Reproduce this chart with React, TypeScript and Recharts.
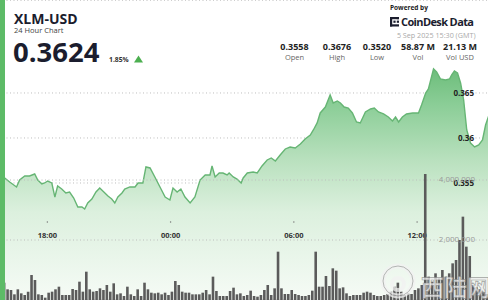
import React from "react";
import { AreaChart, Area, BarChart, Bar, XAxis, YAxis, CartesianGrid } from "recharts";

// minutes since 15:30 (GMT) on the previous day
const priceMinutes = [0,25,40,60,69,84,98,113,122,134,142,151,163,172,180,192,204,215,227,239,251,259,268,280,292,303,315,327,338,347,356,368,376,391,406,415,429,438,450,464,479,494,508,517,529,540,552,567,581,596,611,625,631,640,652,663,675,681,693,704,716,722,734,751,763,777,792,804,816,830,845,859,874,889,903,918,927,938,947,962,976,985,997,1006,1017,1029,1041,1053,1064,1079,1094,1105,1117,1132,1146,1158,1167,1176,1187,1199,1217,1234,1243,1255,1263,1272,1278,1287,1298,1313,1325,1331,1339,1348,1357,1366,1375,1386,1398,1410,1421,1430,1440];
const priceValues = [0.35578,0.35556,0.35511,0.35456,0.35533,0.35578,0.35578,0.356,0.35533,0.35489,0.355,0.35522,0.355,0.35344,0.35467,0.35433,0.35389,0.354,0.35333,0.35233,0.35233,0.35211,0.35278,0.35322,0.354,0.35444,0.354,0.35356,0.35322,0.35278,0.35344,0.35389,0.35433,0.35456,0.35456,0.355,0.355,0.35678,0.35667,0.35567,0.35456,0.35344,0.35311,0.35444,0.354,0.35433,0.35344,0.35278,0.35344,0.35533,0.35589,0.35589,0.35689,0.35567,0.35611,0.35611,0.35589,0.35611,0.35567,0.35544,0.355,0.35556,0.35611,0.35622,0.35611,0.35689,0.35756,0.35778,0.35744,0.35811,0.35878,0.359,0.35889,0.35933,0.35989,0.36033,0.36089,0.36167,0.36278,0.36344,0.36478,0.36389,0.36411,0.36389,0.36344,0.36333,0.36278,0.36178,0.36167,0.36289,0.36322,0.36333,0.36289,0.36267,0.36233,0.36189,0.36233,0.36178,0.36233,0.36267,0.36278,0.36278,0.36367,0.365,0.36544,0.36678,0.36767,0.36733,0.36656,0.36644,0.36656,0.367,0.36744,0.36722,0.36611,0.36422,0.36089,0.35944,0.359,0.35922,0.35978,0.36144,0.36256];
// 10-minute volume, thousands
const volumeK = [420,300,577,356,333,189,356,222,167,278,833,667,189,167,78,244,278,356,444,167,167,167,367,333,611,278,944,356,278,300,389,333,500,278,556,189,222,133,444,189,133,356,133,577,356,244,222,244,189,244,167,278,633,500,278,244,244,189,189,189,244,333,189,778,300,133,133,133,300,411,189,222,133,167,311,133,111,167,333,500,167,389,1611,389,200,200,333,200,167,133,133,167,311,1611,444,444,800,467,1056,978,389,422,222,133,167,167,167,244,278,244,167,133,133,167,200,278,444,578,278,167,222,200,333,389,500,4200,778,611,889,722,1000,778,889,1222,1333,2000,2778,1778,1467,500,422,356,278,200];

const timeTicks = [150, 510, 870, 1230];
const priceTicks = [0.355, 0.36, 0.365];
const volumeTicks = [2000, 4000];
const statValues = ["0.3558", "0.3676", "0.3520", "58.87 M", "21.13 M"];
const statLabels = ["Open", "High", "Low", "Vol", "Vol USD"];

const priceData = priceMinutes.map((m, i) => ({ m, p: priceValues[i] }));
const volumeData = volumeK.map((v, i) => ({ i, v }));

const fmtTime = (m: number) => {
  const t = (15 * 60 + 30 + m) % 1440;
  const hh = Math.floor(t / 60);
  const mm = t % 60;
  return `${String(hh).padStart(2, "0")}:${String(mm).padStart(2, "0")}`;
};

const FONT = "'Open Sans', 'Noto Sans', sans-serif";

const TimeTick = (props: any) => {
  const { x, y, payload } = props;
  return (
    <g>
      <circle cx={x} cy={y - 78} r={0.7} fill="#777" />
      <text x={x} y={y - 62} textAnchor="middle" fontSize={7.5} fontWeight={700} fill="#333" fontFamily={FONT}>
        {fmtTime(payload.value)}
      </text>
    </g>
  );
};

const PriceTick = (props: any) => {
  const { x, y, payload } = props;
  return (
    <text x={x - 15} y={y + 3} textAnchor="end" fontSize={8} fontWeight={700} fill="#222" fontFamily={FONT}>
      {String(payload.value)}
    </text>
  );
};

const VolTick = (props: any) => {
  const { x, y, payload } = props;
  return (
    <text x={x - 14} y={y + 2} textAnchor="end" fontSize={8} fill="#9a9a9a" fontFamily={FONT}>
      {(payload.value * 1000).toLocaleString("en-US")}
    </text>
  );
};

const statCenters = [294.5, 337, 377, 418, 460];

export default function App() {
  return (
    <div style={{ position: "fixed", left: 0, top: 0, width: 488, height: 300, overflow: "hidden", background: "#fff", fontFamily: FONT }}>
      <div style={{ position: "absolute", left: -4, top: 0 }}>
        <AreaChart width={493} height={300} data={priceData} margin={{ top: 0, right: 0, bottom: 0, left: 0 }}>
          <defs>
            <linearGradient id="pg" x1="0" y1="0" x2="0" y2="1">
              <stop offset="0%" stopColor="#6dbd7b" />
              <stop offset="15%" stopColor="#8acd96" />
              <stop offset="40%" stopColor="#bae1bf" />
              <stop offset="62%" stopColor="#dcf0de" />
              <stop offset="100%" stopColor="#f6fbf6" />
            </linearGradient>
          </defs>
          <CartesianGrid vertical={false} stroke="#bdbdbd" strokeDasharray="1 2.5" />
          <XAxis type="number" dataKey="m" domain={[0, 1440]} ticks={timeTicks} mirror height={20} axisLine={false} tickLine={false} tickSize={0} tickMargin={0} interval={0} tick={TimeTick} allowDataOverflow />
          <YAxis type="number" domain={[0.342, 0.37533]} ticks={priceTicks} orientation="right" mirror width={40} axisLine={false} tickLine={false} tickSize={0} tickMargin={0} interval={0} tick={PriceTick} allowDataOverflow />
          <Area type="linear" dataKey="p" stroke="#66b574" strokeWidth={1.4} fill="url(#pg)" fillOpacity={1} isAnimationActive={false} dot={false} activeDot={false} />
        </AreaChart>
      </div>
      <div style={{ position: "absolute", left: -4, top: 0 }}>
        <BarChart width={493} height={300} data={volumeData} margin={{ top: 0, right: 0, bottom: 0, left: 0 }} barCategoryGap={0}>
          <CartesianGrid vertical={false} stroke="#bdbdbd" strokeDasharray="1 2.5" />
          <XAxis dataKey="i" hide />
          <YAxis type="number" domain={[0, 10000]} ticks={volumeTicks} orientation="right" mirror width={40} axisLine={false} tickLine={false} tickSize={0} tickMargin={0} interval={0} tick={VolTick} allowDataOverflow />
          <Bar dataKey="v" fill="#5b5b5b" barSize={2.6} isAnimationActive={false} />
        </BarChart>
      </div>
      <svg width={488} height={300} style={{ position: "absolute", left: 0, top: 0, pointerEvents: "none" }} fontFamily={FONT}>
        <rect x={0} y={0} width={5} height={300} fill="#5dbb67" />
        <text x={14} y={24} fontSize={14} fontWeight={700} fill="#1b1d2e">XLM-USD</text>
        <text x={14} y={33} fontSize={7.5} fill="#444">24 Hour Chart</text>
        <text x={13} y={62} fontSize={27.5} fontWeight={700} fill="#1b1d2e">0.3624</text>
        <text x={109} y={61.5} fontSize={6.8} fontWeight={700} fill="#333">1.85%</text>
        <polygon points="134,62.5 143,62.5 138.5,55.5" fill="#4caf50" />

        <text x={390} y={9.5} fontSize={6.5} fontWeight={700} fill="#222">Powered by</text>
        <g fill="#1b1d2e">
          <rect x={390} y={17} width={2.2} height={9.5} />
          <rect x={390} y={17} width={9} height={2.2} />
          <rect x={390} y={24.3} width={9} height={2.2} />
          <rect x={396.8} y={17} width={2.2} height={2.2} />
          <rect x={396.8} y={20.6} width={2.2} height={2.2} />
          <rect x={393.4} y={20.6} width={2.2} height={2.2} />
        </g>
        <text x={401} y={26.3} fontSize={11} fontWeight={700} fill="#1b1d2e" textLength={73}>CoinDesk Data</text>
        <text x={475.5} y={37.5} fontSize={7.2} fill="#aaa" textAnchor="end">5 Sep 2025 15:30 (GMT)</text>
        {statValues.map((v, i) => (
          <text key={v} x={statCenters[i]} y={50} fontSize={9} fontWeight={700} fill="#222" textAnchor="middle">{v}</text>
        ))}
        {statLabels.map((v, i) => (
          <text key={v} x={statCenters[i]} y={60} fontSize={7.5} fill="#666" textAnchor="middle">{v}</text>
        ))}

        <g opacity={0.75}>
          <circle cx={398} cy={281} r={15} fill="none" stroke="#f2f2f2" strokeWidth={5} />
          <circle cx={398} cy={281} r={15} fill="none" stroke="#8a8a8a" strokeWidth={0.8} />
          <circle cx={398} cy={284} r={6} fill="none" stroke="#f2f2f2" strokeWidth={4} />
          <text x={421} y={296} fontSize={23} fontWeight={700} fill="#eeeeee" stroke="#8a8a8a" strokeWidth={0.7} fontFamily="'Noto Sans CJK SC', sans-serif">西陆网</text>
        </g>
      </svg>
    </div>
  );
}
